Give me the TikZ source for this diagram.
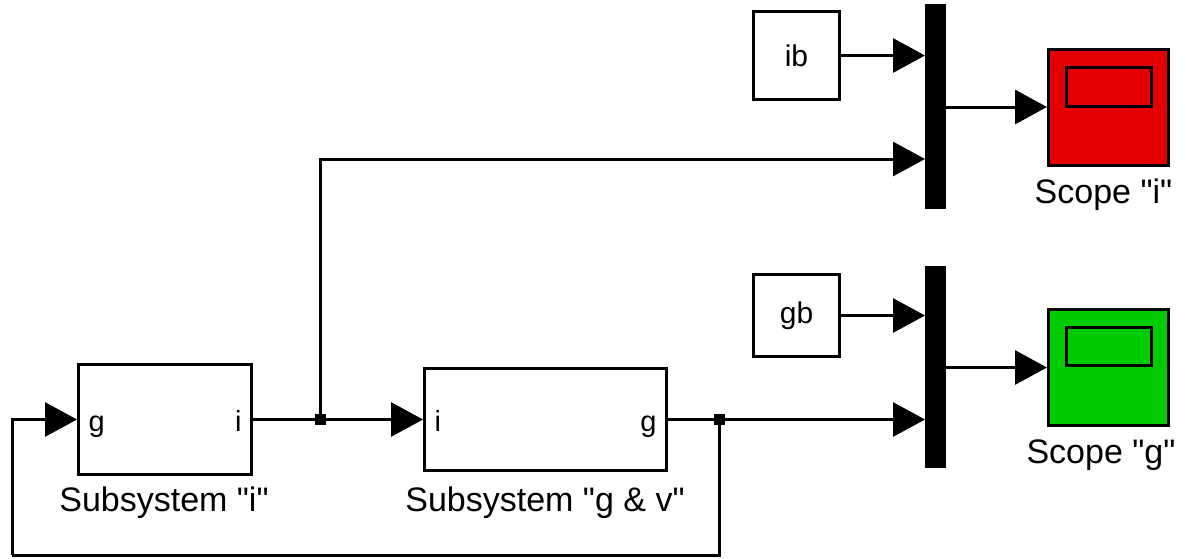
\documentclass[tikz,border=0pt]{standalone}
\usepackage{fontspec}
\setmainfont{Liberation Sans}
\newfontfamily\arialish{Liberation Sans}
\usetikzlibrary{arrows.meta,calc}
\definecolor{scopered}{RGB}{228,0,0}
\definecolor{scopegreen}{RGB}{0,204,0}
\begin{document}
\begin{tikzpicture}[x=1pt,y=-1pt,line width=3pt,
  blk/.style={draw,fill=white,inner sep=0pt},
  muxbar/.style={draw=none,fill=black,inner sep=0pt,outer sep=0pt,minimum width=21pt},
  junc/.style={fill=black,inner sep=0pt,minimum size=11pt},
  sig/.style={-{Triangle[length=32pt,width=34pt]}},
  lbl/.style={font=\arialish\fontsize{34}{38}\selectfont,inner sep=0pt},
  port/.style={font=\arialish\fontsize{29}{33}\selectfont,inner sep=0pt},
  scopebox/.style={draw,inner sep=0pt,minimum width=120pt,minimum height=116pt}]
\useasboundingbox (0,0) rectangle (1186,558);

% source blocks
\node[blk,minimum width=86pt,minimum height=88pt,font=\arialish\fontsize{30}{34}\selectfont] (ib) at (796.5,55.5) {ib};
\node[blk,minimum width=86pt,minimum height=82pt,font=\arialish\fontsize{30}{34}\selectfont] (gb) at (796.5,315.5) {gb};

% mux bars
\node[muxbar,minimum height=205pt] (mux1) at (935.5,106.5) {};
\node[muxbar,minimum height=202pt] (mux2) at (935.5,367) {};

% scopes
\node[scopebox,fill=scopered] (scI) at (1108.5,107) {};
\node[draw,inner sep=0pt,minimum width=85pt,minimum height=39pt] (scIin) at (1109,87) {};
\node[lbl] (scIlbl) at (1103.5,195) {Scope "i"};
\node[scopebox,fill=scopegreen] (scG) at (1108.5,367.5) {};
\node[draw,inner sep=0pt,minimum width=85pt,minimum height=38pt] (scGin) at (1109,346.5) {};
\node[lbl] (scGlbl) at (1101,455) {Scope "g"};

% subsystems
\node[blk,minimum width=173pt,minimum height=110pt] (subI) at (165,419.5) {};
\node[port,anchor=base west] (subIg) at ($(subI.west)+(10,11.5)$) {g};
\node[port,anchor=base east] (subIi) at ($(subI.east)+(-10,11.5)$) {i};
\node[lbl] (subIlbl) at (164,503) {Subsystem "i"};

\node[blk,minimum width=242pt,minimum height=102pt] (subGV) at (545.5,419.5) {};
\node[port,anchor=base west] (subGVi) at ($(subGV.west)+(10,11.5)$) {i};
\node[port,anchor=base east] (subGVg) at ($(subGV.east)+(-10,11.5)$) {g};
\node[lbl] (subGVlbl) at (545,503) {Subsystem "g \& v"};

% junctions and helper coordinates
\node[junc] (j1) at (320.5,419.5) {};
\node[junc] (j2) at (719,419.5) {};
\coordinate (m1in2) at (925,159);
\coordinate (fbR) at (719,555);
\coordinate (fbL) at (12,555);

% connectors
\draw[sig] (ib.east) -- (ib.east -| mux1.west);
\draw[sig] (j1.center) |- (m1in2);
\draw[sig] (mux1.east |- scI.west) -- (scI.west);
\draw[sig] (gb.east) -- (gb.east -| mux2.west);
\draw[sig] (mux2.east |- scG.west) -- (scG.west);
\draw[sig] (subI.east) -- (subGV.west);
\draw[sig] (subGV.east) -- (subGV.east -| mux2.west);
\draw (j2.center) -- (fbR) -- (fbL);
\draw[sig] (fbL) |- (subI.west);
\end{tikzpicture}
\end{document}
